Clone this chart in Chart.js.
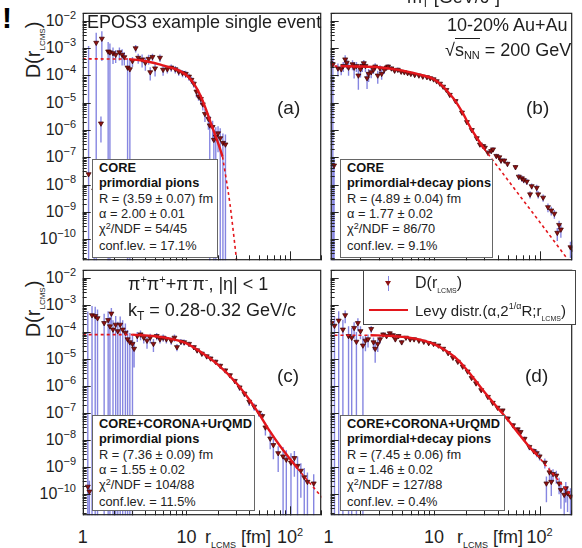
<!DOCTYPE html>
<html lang="en">
<head>
<meta charset="UTF-8">
<meta name="viewport" content="width=device-width, initial-scale=1.0">
<title>EPOS3 D(r_LCMS) Levy fits</title>
<script src="https://cdn.jsdelivr.net/npm/chart.js"></script>
<style>
  body { margin: 0; background: #fff; font-family: "Liberation Sans", Arial, sans-serif; color: #1e1e1e; }
  #fig { position: relative; width: 582px; height: 548px; overflow: hidden; background: #fff; }
  canvas.pan { position: absolute; }
  .t { position: absolute; white-space: nowrap; line-height: 1; }
  .sup { position: relative; font-size: 11px; top: -7px; }
  .sub { position: relative; font-size: 8px; top: 5px; }
  .box { position: absolute; background: #fff; border: 1px solid #666; font-size: 12.8px; line-height: 15.3px; padding-left: 6px; box-sizing: border-box; color: #222; }
  .box b { color: #111; }
  .s2 { position: relative; font-size: 9px; top: -4px; }
</style>
</head>
<body>
<div id="fig"></div>
<script>
  // values; D values kept as log10(D)
  // (a) CORE, primordial pions
  const aR = [1.14,1.29,1.35,1.50,1.53,1.76,1.83,1.96,2.08,2.26,2.40,2.52,2.71,2.85,3.02,3.24,3.43,3.74,4.02,4.32,4.48,4.71,4.99,5.56,5.96,6.55,7.14,7.82,8.43,9.18,9.85,10.6,11.2,11.8,12.5,13.1,13.8,14.4,15.1,16.3,16.8,17.9,18.4,19.2,20.2,21.2,22.5,23.8];
  const aLogD = [-7.62,-8.22,-2.80,-5.76,-2.65,-3.12,-3.15,-3.18,-3.24,-3.15,-3.24,-3.33,-3.71,-3.77,-3.47,-3.00,-3.35,-3.41,-3.53,-3.39,-3.88,-3.32,-3.74,-3.35,-3.79,-3.77,-3.71,-3.77,-3.86,-3.91,-3.94,-4.04,-4.16,-4.30,-4.59,-4.77,-4.86,-5.06,-5.41,-5.59,-5.83,-5.89,-6.36,-6.24,-6.12,-6.30,-6.47,-6.53];
  const aRelErr = [5e4,1.5,1.3,0.8,0.85,1.2,1.1,0.6,0.5,0.5,0.6,0.5,1.2,1.2,0.4,0.3,0.4,0.5,0.5,0.4,0.5,0.3,0.5,0.3,0.4,0.3,0.3,0.3,0.3,0.3,0.3,0.3,0.3,0.3,0.4,0.3,0.4,0.4,0.5,0.6,1.2,0.7,1.3,1.2,0.8,1.3,1.2,1.3];
  const aFitR = [2.8,4.0,5.8,7.2,8.9,10.2,11.8,13.8,15.4,17.1,19.1,21.2,22.3];
  const aFitLogD = [-3.40,-3.47,-3.62,-3.72,-3.86,-4.02,-4.30,-4.77,-5.23,-5.72,-6.22,-6.71,-6.98];
  const aDashR = [1,2.8,null,22.3,24.2,26.3,30.5];
  const aDashLogD = [-3.39,-3.40,null,-6.98,-7.80,-8.71,-10.78];

  // (b) CORE, primordial+decay pions
  const bR = [1.04,1.10,1.13,1.23,1.32,1.38,1.44,1.49,1.55,1.69,1.75,1.84,1.92,2.01,2.09,2.16,2.24,2.32,2.40,2.54,2.67,2.77,2.93,3.08,3.19,3.38,3.55,3.67,3.95,4.23,4.54,4.88,5.23,5.62,6.03,6.56,7.19,7.83,8.57,9.21,9.91,10.6,11.4,12.2,13.1,14.1,16.0,18.4,20.5,22.8,25.4,27.2,29.2,30.3,32.4,34.8,36.2,38.9,41.5,43.1,46.3,49.6,59.1,63.5,67.9,70.8,75.7,81.2,84.1,93.9,97,108,120,129,138,147,153,159,196,204];
  const bLogD = [-3.53,-3.59,-7.30,-3.74,-3.77,-3.65,-3.41,-3.53,-3.71,-3.59,-3.71,-3.65,-4.00,-3.77,-3.65,-3.55,-3.65,-4.10,-3.94,-3.88,-3.79,-3.67,-4.00,-3.74,-3.94,-3.79,-3.71,-3.67,-3.74,-3.82,-3.79,-3.86,-3.88,-3.91,-3.94,-3.98,-4.00,-4.04,-4.06,-4.10,-4.14,-4.21,-4.30,-4.41,-4.53,-4.71,-4.94,-5.36,-5.71,-6.00,-6.30,-6.53,-6.59,-6.65,-6.83,-6.77,-6.71,-6.95,-7.00,-7.12,-7.12,-7.24,-7.36,-7.71,-7.77,-7.83,-7.89,-8.36,-8.06,-8.12,-8.36,-8.48,-8.83,-8.95,-9.07,-9.77,-9.48,-9.65,-10.30,-10.36];
  const bRelErr = [1.05,1.05,1.05,0.5,0.4,0.4,0.4,0.4,0.5,0.4,0.6,0.4,0.7,0.5,0.4,0.3,0.4,0.6,0.5,0.4,0.3,0.3,0.5,0.3,0.4,0.3,0.2,0.2,0.2,0.2,0.2,0.15,0.15,0.15,0.15,0.15,0.15,0.15,0.15,0.15,0.15,0.15,0.15,0.15,0.15,0.15,0.15,0.15,0.15,0.15,0.2,0.2,0.2,0.2,0.2,0.2,0.2,0.2,0.2,0.2,0.2,0.2,0.2,0.25,0.25,0.25,0.25,0.3,0.25,0.3,0.3,0.3,0.35,0.35,0.35,0.5,0.4,0.5,0.6,1.05];
  const bFitR = [1.3,2,3,4,5.6,7.5,9.9,12,14,16,18.4,22.8,28.2,30];
  const bFitLogD = [-3.66,-3.67,-3.70,-3.76,-3.86,-3.98,-4.13,-4.38,-4.67,-4.95,-5.33,-6.00,-6.55,-6.70];
  const bDashR = [1,1.3,null,30,60,100,185];
  const bDashLogD = [-3.66,-3.66,null,-6.70,-8.24,-9.37,-10.75];

  // (c) CORE+CORONA+UrQMD, primordial pions
  const cR = [1.12,1.16,1.23,1.32,1.39,1.61,1.76,1.83,1.89,1.96,2.08,2.18,2.30,2.43,2.58,2.71,2.85,3.02,3.13,3.36,3.61,3.88,4.17,4.48,4.81,5.17,5.56,5.97,6.41,7.14,7.67,8.11,8.85,9.51,10.6,11.8,12.7,14.1,15.7,17.1,19.1,21.2,23.7,26.3,29.3,32.6,36.3,40.4,45.1,50.2,53.9,57.8,64.3,69.0,76.8,85.6,92.0,102,110,118,127,137,147,169];
  const cLogD = [-9.72,-9.90,-3.38,-3.41,-3.49,-3.67,-3.56,-3.79,-3.32,-3.91,-3.73,-3.97,-3.73,-3.91,-4.03,-4.27,-4.38,-4.44,-4.62,-4.15,-4.09,-4.21,-4.32,-4.21,-4.44,-4.15,-4.27,-4.21,-4.27,-4.32,-4.21,-4.56,-4.36,-4.38,-4.44,-4.56,-4.68,-4.80,-4.90,-4.98,-5.10,-5.25,-5.42,-5.60,-5.81,-6.05,-6.28,-6.58,-6.76,-6.99,-7.11,-7.53,-7.94,-8.18,-8.48,-8.60,-8.72,-8.83,-8.66,-8.95,-9.13,-9.37,-9.54,-9.60];
  const cRelErr = [3e6,1.5,1.2,1.2,1.1,1.2,1.1,1.2,0.6,1.2,1.1,1.2,1.0,1.2,1.2,1.2,1.2,1.2,0.8,0.4,0.4,0.4,0.5,0.4,0.5,0.3,0.3,0.3,0.3,0.3,0.3,0.3,0.25,0.25,0.2,0.2,0.2,0.2,0.2,0.2,0.2,0.2,0.2,0.2,0.2,0.25,0.25,0.3,0.3,0.3,0.3,0.5,0.6,0.7,0.8,1.2,1.2,1.2,0.8,1.2,0.9,1.2,1.2,1.2];
  const cFitR = [3,5,7,10,14,20,30,40,50,64,80,100,118];
  const cFitLogD = [-4.10,-4.16,-4.25,-4.42,-4.76,-5.20,-5.87,-6.48,-7.02,-7.68,-8.22,-8.70,-9.05];
  const cDashR = [1,3,null,118,160,207];
  const cDashLogD = [-4.10,-4.10,null,-9.05,-9.65,-10.15];

  // (d) CORE+CORONA+UrQMD, primordial+decay pions
  const dR = [1.01,1.07,1.14,1.25,1.37,1.44,1.55,1.66,1.75,1.84,1.90,2.01,2.12,2.24,2.37,2.54,2.67,2.77,2.93,3.08,3.30,3.55,3.81,4.08,4.30,4.61,4.94,5.42,5.94,6.47,7.19,8.0,8.9,9.9,11.0,12.2,13.6,15.1,16.8,18.7,20.8,22.7,25,28,32.4,36,40,44.6,50,56,62,66.1,72,80,88,93.9,100,112,116,124,129,134,144,153,159,171,177,184,196];
  const dLogD = [-3.61,-3.67,-3.77,-3.58,-3.91,-3.38,-4.15,-4.21,-3.85,-4.36,-3.67,-3.97,-4.50,-4.32,-4.27,-3.89,-4.38,-4.62,-4.44,-4.27,-4.09,-4.15,-4.05,-4.12,-4.27,-4.15,-4.38,-4.21,-4.27,-4.27,-4.32,-4.36,-4.41,-4.44,-4.50,-4.62,-4.78,-4.95,-5.10,-5.28,-5.46,-5.70,-5.90,-6.15,-6.40,-6.62,-6.80,-6.90,-7.20,-7.45,-7.60,-7.70,-7.95,-8.25,-8.40,-8.48,-8.60,-8.83,-9.60,-9.19,-9.54,-9.25,-9.31,-9.60,-9.84,-10.02,-9.78,-9.96,-10.08];
  const dRelErr = [1.3,1.3,1.3,1.2,1.3,0.5,1.3,1.3,0.6,1.3,0.5,0.5,1.2,0.6,0.5,0.3,0.5,0.7,0.5,0.3,0.2,0.2,0.2,0.2,0.2,0.15,0.2,0.15,0.15,0.15,0.12,0.12,0.12,0.12,0.12,0.12,0.12,0.12,0.12,0.12,0.12,0.12,0.12,0.15,0.15,0.15,0.15,0.15,0.2,0.2,0.2,0.2,0.2,0.25,0.25,0.3,0.3,0.4,0.8,0.5,0.7,0.5,0.5,0.6,0.8,0.9,0.7,0.8,1.0];
  const dFitR = [2.5,4,6,8,10,13,17,22.7,30,40,50,66,80,94];
  const dFitLogD = [-4.12,-4.15,-4.22,-4.32,-4.45,-4.70,-5.05,-5.62,-6.22,-6.80,-7.25,-7.85,-8.25,-8.54];
  const dDashR = [1,2.5,null,94,140,207];
  const dDashLogD = [-4.12,-4.12,null,-8.54,-9.34,-10.12];

  // axis labels
  const yTickExp = [-2,-3,-4,-5,-6,-7,-8,-9,-10];
  const xTickVals = [1,10,100];
  const xTickText = ['1','10','10<span class="sup">2</span>'];

  const yMin = 1.66e-11, yMax = 2.0e-2;

  const panels = [
    { key: 'a', left: 78, top: 8, w: 248, h: 257, xMin: 1, xMax: 200, r: aR, d: aLogD, err: aRelErr, fitR: aFitR, fitD: aFitLogD, dashR: aDashR, dashD: aDashLogD, yLab: true, xLab: false },
    { key: 'b', left: 326, top: 8, w: 251, h: 257, xMin: 1.05, xMax: 204, r: bR, d: bLogD, err: bRelErr, fitR: bFitR, fitD: bFitLogD, dashR: bDashR, dashD: bDashLogD, yLab: false, xLab: false },
    { key: 'c', left: 78, top: 265, w: 248, h: 255, xMin: 1, xMax: 200, r: cR, d: cLogD, err: cRelErr, fitR: cFitR, fitD: cFitLogD, dashR: cDashR, dashD: cDashLogD, yLab: true, xLab: true },
    { key: 'd', left: 326, top: 265, w: 251, h: 255, xMin: 1.05, xMax: 204, r: dR, d: dLogD, err: dRelErr, fitR: dFitR, fitD: dFitLogD, dashR: dDashR, dashD: dDashLogD, yLab: false, xLab: true }
  ];

  function pts(xs, logs) {
    return xs.map((x, i) => x === null ? { x: null, y: null } : { x: x, y: Math.pow(10, logs[i]) });
  }

  // vertical error bars as line pieces split by null points
  function errSegs(xs, logs, rel) {
    const out = [];
    xs.forEach((x, i) => {
      const y = Math.pow(10, logs[i]);
      const lo = rel[i] >= 1 ? 1e-14 : y * (1 - rel[i]);
      out.push({ x: x, y: lo }, { x: x, y: y * (1 + rel[i]) }, { x: null, y: null });
    });
    return out;
  }

  // ROOT style frame with ticks inside
  const axisFrame = {
    id: 'axisFrame',
    afterDatasetsDraw(chart) {
      const { ctx, chartArea: ca, scales: { x, y } } = chart;
      ctx.save();
      ctx.strokeStyle = '#222';
      ctx.lineWidth = 1;
      ctx.beginPath();
      for (let e = 0; e <= 2; e++) {
        for (let m = 1; m <= 9; m++) {
          const v = m * Math.pow(10, e);
          if (v < x.min || v > x.max) continue;
          const px = Math.round(x.getPixelForValue(v)) + 0.5;
          const len = m === 1 ? 9 : 5;
          ctx.moveTo(px, ca.bottom);
          ctx.lineTo(px, ca.bottom - len);
        }
      }
      for (let e = -11; e <= -2; e++) {
        for (let m = 1; m <= 9; m++) {
          const v = m * Math.pow(10, e);
          if (v < y.min || v > y.max) continue;
          const py = Math.round(y.getPixelForValue(v)) + 0.5;
          const len = m === 1 ? 8 : 4;
          ctx.moveTo(ca.left, py);
          ctx.lineTo(ca.left + len, py);
        }
      }
      ctx.stroke();
      ctx.lineWidth = 1.2;
      ctx.strokeRect(ca.left + 0.6, ca.top + 0.6, ca.width - 1.2, ca.height - 1.2);
      ctx.restore();
    }
  };

  const fig = document.getElementById('fig');

  function put(html, left, top, css) {
    const el = document.createElement('div');
    el.className = 't';
    el.innerHTML = html;
    el.style.left = left + 'px';
    el.style.top = top + 'px';
    if (css) el.style.cssText += css;
    fig.appendChild(el);
    return el;
  }

  const charts = {};
  panels.forEach(p => {
    const cv = document.createElement('canvas');
    cv.className = 'pan';
    cv.width = p.w;
    cv.height = p.h;
    cv.style.left = p.left + 'px';
    cv.style.top = p.top + 'px';
    cv.style.width = p.w + 'px';
    cv.style.height = p.h + 'px';
    fig.appendChild(cv);

    charts[p.key] = new Chart(cv, {
      type: 'line',
      data: {
        datasets: [
          { data: pts(p.fitR, p.fitD), borderColor: '#e3161c', borderWidth: 2.4, pointRadius: 0, cubicInterpolationMode: 'monotone', order: 0 },
          { data: pts(p.dashR, p.dashD), borderColor: '#e3161c', borderWidth: 1.6, borderDash: [3, 3], pointRadius: 0, cubicInterpolationMode: 'monotone', order: 1 },
          { type: 'scatter', data: pts(p.r, p.d), pointStyle: 'triangle', rotation: 180, pointRadius: 2.9, backgroundColor: '#8e1212', borderColor: '#3c0000', borderWidth: 0.7, order: 2 },
          { data: errSegs(p.r, p.d, p.err), borderColor: 'rgba(104,104,218,0.8)', borderWidth: 1.4, pointRadius: 0, order: 3 }
        ]
      },
      options: {
        responsive: false,
        animation: false,
        events: [],
        layout: { padding: 0 },
        plugins: { legend: { display: false }, tooltip: { enabled: false } },
        scales: {
          x: { type: 'logarithmic', min: p.xMin, max: p.xMax, display: false },
          y: { type: 'logarithmic', min: yMin, max: yMax, display: false }
        }
      },
      plugins: [axisFrame]
    });
  });

  // tick labels placed from the chart scales
  panels.forEach(p => {
    const ch = charts[p.key];
    if (p.yLab) {
      yTickExp.forEach(e => {
        const py = p.top + ch.scales.y.getPixelForValue(Math.pow(10, e));
        put('10<span class="sup">\u2212' + (-e) + '</span>', 0, py, 'left:auto;right:' + (582 - 76) + 'px;transform:translateY(-50%);font-size:16px;');
      });
    }
    if (p.xLab) {
      xTickVals.forEach((v, i) => {
        let px = p.left + ch.scales.x.getPixelForValue(v);
        if (px < p.left + 2) px = p.left + 2;
        put(xTickText[i], px, 537, 'transform:translate(-50%,-50%);font-size:18px;');
      });
    }
  });

  // axis titles
  const yTitle = 'D(r<span class="sub">LCMS</span>)';
  put(yTitle, 33, 50, 'transform:translate(-50%,-50%) rotate(-90deg);font-size:20px;');
  put(yTitle, 33, 309, 'transform:translate(-50%,-50%) rotate(-90deg);font-size:20px;');
  const xTitle = 'r<span class="sub" style="font-size:9px">LCMS</span> [fm]';
  put(xTitle, 205, 537, 'transform:translateY(-50%);font-size:18px;');
  put(xTitle, 457, 537, 'transform:translateY(-50%);font-size:18px;');

  // panel texts
  put('EPOS3 example single event', 87, 22, 'transform:translateY(-50%);font-size:18px;');
  put('10-20% Au+Au', 447, 25, 'transform:translateY(-50%);font-size:18px;');
  put('\u221A<span style="border-top:1px solid #1e1e1e;padding-top:1px">s<span class="sub" style="font-size:11px;top:3px">NN</span></span> = 200 GeV', 445, 50, 'transform:translateY(-50%);font-size:18px;');
  put('\u03C0<span class="sup">+</span>\u03C0<span class="sup">+</span>+\u03C0<span class="sup">-</span>\u03C0<span class="sup">-</span>, |\u03B7| &lt; 1', 128, 284, 'transform:translateY(-50%);font-size:18px;');
  put('k<span class="sub" style="font-size:12px;top:4px">T</span> = 0.28-0.32 GeV/c', 128, 310, 'transform:translateY(-50%);font-size:18px;');
  put('(a)', 277, 107, 'transform:translateY(-50%);font-size:19px;');
  put('(b)', 526, 107, 'transform:translateY(-50%);font-size:19px;');
  put('(c)', 277, 375, 'transform:translateY(-50%);font-size:19px;');
  put('(d)', 525, 375, 'transform:translateY(-50%);font-size:19px;');

  // stray pieces cut from neighbouring figures
  put('!', 2, 3, 'font-size:30px;font-weight:bold;color:#000;');
  put('m<span class="sub" style="font-size:11px;top:4px">T</span> [GeV/c<span class="sup">2</span>]', 407, -12, 'font-size:18px;');

  // fit result boxes
  function box(left, top, w, h, lines) {
    const el = document.createElement('div');
    el.className = 'box';
    el.style.left = left + 'px';
    el.style.top = top + 'px';
    el.style.width = w + 'px';
    el.style.height = h + 'px';
    el.innerHTML = lines.join('<br>');
    fig.appendChild(el);
  }
  const chi = '\u03C7<span class="s2">2</span>/NDF = ';
  box(92, 159, 126, 99, ['<b>CORE</b>', '<b>primordial pions</b>', 'R = (3.59 \u00B1 0.07) fm', '\u03B1 = 2.00 \u00B1 0.01', chi + '54/45', 'conf.lev. = 17.1%']);
  box(340, 159, 153, 99, ['<b>CORE</b>', '<b>primordial+decay pions</b>', 'R = (4.89 \u00B1 0.04) fm', '\u03B1 = 1.77 \u00B1 0.02', chi + '86/70', 'conf.lev. = 9.1%']);
  box(92, 415, 163, 96, ['<b>CORE+CORONA+UrQMD</b>', '<b>primordial pions</b>', 'R = (7.36 \u00B1 0.09) fm', '\u03B1 = 1.55 \u00B1 0.02', chi + '104/88', 'conf.lev. = 11.5%']);
  box(340, 415, 165, 96, ['<b>CORE+CORONA+UrQMD</b>', '<b>primordial+decay pions</b>', 'R = (7.45 \u00B1 0.06) fm', '\u03B1 = 1.46 \u00B1 0.02', chi + '127/88', 'conf.lev. = 0.4%']);

  // legend
  const leg = document.createElement('div');
  leg.style.cssText = 'position:absolute;left:363px;top:270px;width:213px;height:55px;background:#fff;border:1px solid #444;box-sizing:border-box;';
  leg.innerHTML =
    '<div style="position:absolute;left:24px;top:5px;width:1.3px;height:15px;background:rgba(104,104,218,0.8)"></div>' +
    '<div style="position:absolute;left:21px;top:10px;width:0;height:0;border-left:3px solid transparent;border-right:3px solid transparent;border-top:5px solid #8e1212"></div>' +
    '<div style="position:absolute;left:5px;top:38px;width:39px;height:2px;background:#e3161c"></div>';
  fig.appendChild(leg);
  put('D(r<span class="sub" style="font-size:7px">LCMS</span>)', 415, 283, 'transform:translateY(-50%);font-size:16px;');
  put('Levy distr.(\u03B1,2<span class="sup" style="font-size:9px">1/\u03B1</span>R;r<span class="sub" style="font-size:7px">LCMS</span>)', 415, 310, 'transform:translateY(-50%);font-size:15px;');
</script>
</body>
</html>
